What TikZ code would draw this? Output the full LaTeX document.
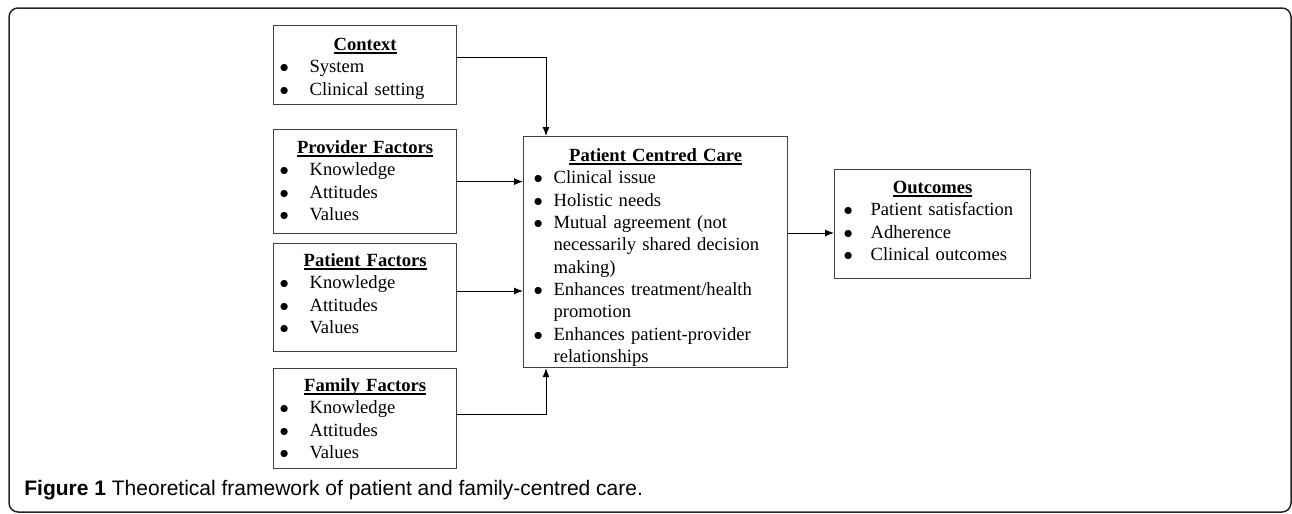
\documentclass[tikz,border=0pt]{standalone}
\usepackage{fontspec}
\setmainfont{Liberation Serif}
\setsansfont{Liberation Sans}
\usetikzlibrary{arrows.meta}
\newlength{\px}\setlength{\px}{0.5pt}
\newlength{\bulletsep}
\newcommand{\dotmark}{$\bullet$}
\newcommand{\bitem}[1]{\par\hangindent=\bulletsep\hangafter=1\noindent\makebox[\bulletsep][l]{\dotmark}#1\par}
\newcommand{\boxtitle}[1]{\noindent\makebox[\linewidth]{\sbox0{\textbf{#1}}\rlap{\rule[-3.4\px]{\wd0}{1.6\px}}\usebox0}}
\tikzset{
  bullet sep/.code = {\setlength{\bulletsep}{#1}},
  framebox/.style  = {draw=black!75, line width=0.6pt, inner ysep=0pt,
                      anchor=north west, align=left,
                      font=\fontsize{9.3}{11.15}\selectfont},
  factor/.style    = {framebox, inner xsep=6\px, text width=171\px, bullet sep=30\px},
  care/.style      = {framebox, inner xsep=10\px, text width=244\px, bullet sep=20\px},
  outcome/.style   = {framebox, inner xsep=9\px, text width=178\px, bullet sep=27\px},
  link/.style      = {draw, line width=0.5pt, -{Latex[length=4.5pt,width=3.5pt]}},
  caption/.style   = {inner sep=0pt, anchor=base west, font=\sffamily\fontsize{10.5}{12}\selectfont}
}
\begin{document}
\begin{tikzpicture}[x=0.5pt, y=-0.5pt]
  \useasboundingbox (0,0) rectangle (1292,514);
  \draw[line width=0.75pt, draw=black!85, rounded corners=4.5pt] (9,8) rectangle (1291,512);

  % input factors
  \node[factor, text height=25\px, text depth=54\px] (context) at (273,25)
    {\boxtitle{Context}\bitem{System}\bitem{Clinical setting}};
  \node[factor, text height=24\px, text depth=80\px] (provider) at (273,129)
    {\boxtitle{Provider Factors}\bitem{Knowledge}\bitem{Attitudes}\bitem{Values}};
  \node[factor, text height=23\px, text depth=85\px] (patient) at (273,243)
    {\boxtitle{Patient Factors}\bitem{Knowledge}\bitem{Attitudes}\bitem{Values}};
  \node[factor, text height=23\px, text depth=77\px] (family) at (273,368)
    {\boxtitle{Family Factors}\bitem{Knowledge}\bitem{Attitudes}\bitem{Values}};

  % care and outcomes
  \node[care, text height=25\px, text depth=206\px] (pcc) at (523,136)
    {\boxtitle{Patient Centred Care}
     \bitem{Clinical issue}
     \bitem{Holistic needs}
     \bitem{Mutual agreement (not\newline necessarily shared decision\newline making)}
     \bitem{Enhances treatment/health\newline promotion}
     \bitem{Enhances patient-provider\newline relationships}};
  \node[outcome, text height=24\px, text depth=85\px] (outcomes) at (834,169)
    {\boxtitle{Outcomes}\bitem{Patient satisfaction}\bitem{Adherence}\bitem{Clinical outcomes}};

  % connectors
  \draw[link] (context.east |- 0,57) -| (pcc.north -| 546,0);
  \draw[link] (provider.east) -- (provider.east -| pcc.west);
  \draw[link] (patient.east |- 0,291) -- (pcc.west |- 0,291);
  \draw[link] (family.east |- 0,414) -| (pcc.south -| 546,0);
  \draw[link] (pcc.east |- 0,233) -- (outcomes.west |- 0,233);

  \node[caption] (caption) at (24,495)
    {\textbf{Figure 1} Theoretical framework of patient and family-centred care.};
\end{tikzpicture}
\end{document}
